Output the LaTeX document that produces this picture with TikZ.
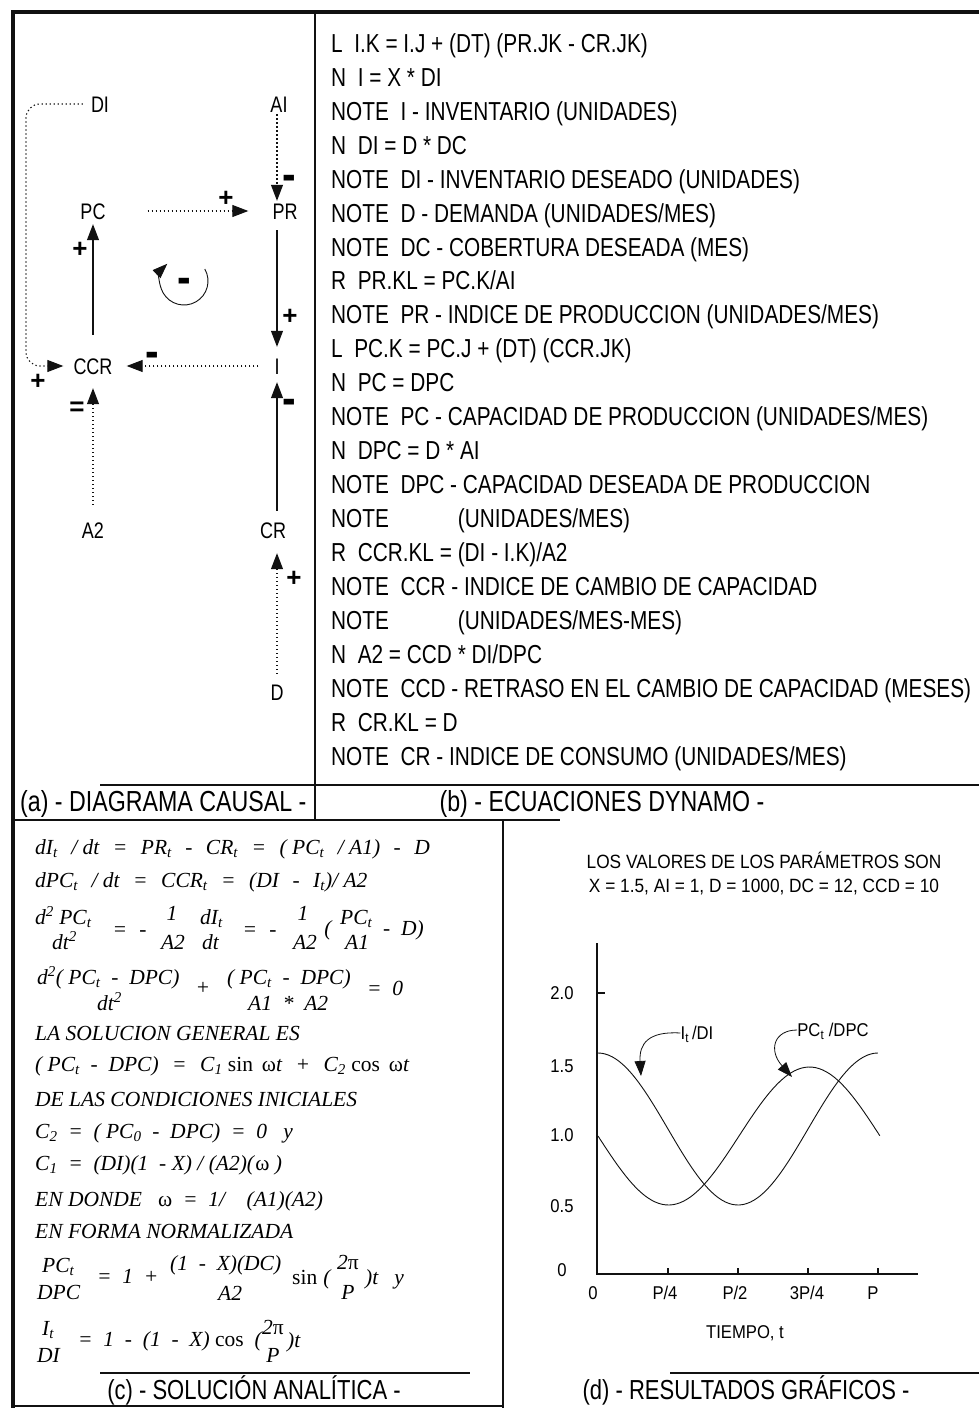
\documentclass[tikz,border=0pt]{standalone}
\usepackage{fontspec}
\usepackage{graphicx}
\usepackage{tikz}
\usetikzlibrary{arrows.meta,positioning}
\setmainfont{Liberation Serif}
\newfontfamily\condsans[FakeStretch=0.8]{Liberation Sans}
\newfontfamily\grafsans[FakeStretch=0.9]{Liberation Sans}
\newfontfamily\signsans{Liberation Sans}
\newfontfamily\eqserif{Liberation Serif}
\newcommand{\lo}[1]{\textsubscript{#1}}
\newcommand{\g}{\hspace{13.5pt}}
\newcommand{\mn}{\smash{\scalebox{0.8}[2.2]{–}}}
\definecolor{ink}{HTML}{111111}
\tikzset{
  dyn/.style={anchor=west,inner sep=0pt,text height=18.6pt,text depth=0pt,font=\condsans\fontsize{26}{26}\selectfont},
  capt/.style={inner sep=0pt,text height=20.8pt,text depth=0pt,font=\condsans\fontsize{29}{29}\selectfont},
  capt2/.style={capt,text height=19.7pt,font=\condsans\fontsize{27.5}{27.5}\selectfont},
  var/.style={inner sep=0pt,text height=16pt,text depth=0pt,font=\condsans\fontsize{22.5}{22.5}\selectfont},
  sgn/.style={inner sep=0pt,font=\signsans\bfseries\fontsize{26}{26}\selectfont},
  sgm/.style={sgn,text height=0pt,text depth=0pt,yshift=-15.5pt},
  eq/.style={anchor=west,inner sep=0pt,text height=14.2pt,text depth=0pt,font=\eqserif\itshape\fontsize{21.5}{21.5}\selectfont},
  eqc/.style={eq,anchor=center},
  gtx/.style={inner sep=0pt,text height=13pt,text depth=0pt,font=\grafsans\fontsize{18.5}{18.5}\selectfont},
  gtl/.style={gtx,text height=13.7pt,font=\grafsans\fontsize{19.2}{19.2}\selectfont},
  ar/.style={-{Triangle[length=16pt,width=12pt]},line width=1.1pt,ink},
  dar/.style={ar,dash pattern=on 1.3pt off 2.7pt},
  car/.style={-{Triangle[length=15pt,width=11pt]},line width=0.8pt,ink},
  rule/.style={line width=1.1pt,ink},
  crv/.style={line width=0.9pt,ink}
}

\begin{document}
\begin{tikzpicture}[x=1pt,y=-1pt]
\useasboundingbox (0,0) rectangle (979,1408);
\fill[white] (0,0) rectangle (979,1408);

% frame and panel rules
\draw[line width=4.5pt,ink] (13,1408) -- (13,12) -- (979,12);
\draw[rule] (315,12) -- (315,820);
\draw[rule] (100,785) -- (979,785);
\draw[rule] (13,820) -- (560,820);
\draw[rule] (503,820) -- (503,1408);
\draw[rule] (100,1373) -- (470,1373);
\draw[rule] (670,1373) -- (979,1373);
\draw[rule] (13,1406) -- (503,1406);

% (a) causal diagram
\node[var] (DI) at (100,104) {DI};
\node[var] (AI) at (279,104) {AI};
\node[var] (PC) at (93,211) {PC};
\node[var] (PR) at (285,211) {PR};
\node[var] (CCR) at (93,366) {CCR};
\node[var] (I) at (277,366) {I};
\node[var] (A2) at (93,530) {A2};
\node[var] (CR) at (273,530) {CR};
\node[var] (D) at (277,692) {D};
\coordinate (ccrl) at (26,366);

\draw[dar,shorten <=2pt,shorten >=2pt] ([xshift=-2pt]AI.south) -- ([xshift=-8pt]PR.north);
\draw[dar,shorten <=42pt,shorten >=24pt] (PC.east) -- (PR.west);
\draw[ar,shorten <=23pt,shorten >=5pt] (CCR.north) -- (PC.south);
\draw[ar,shorten <=11pt,shorten >=11pt] (PR.south -| I.north) -- (I.north);
\draw[dar,shorten <=16pt,shorten >=14pt] (I.west) -- (CCR.east);
\draw[dar,rounded corners=14pt,shorten <=8pt,shorten >=10pt] (DI.west) -| (ccrl) -- (CCR.west);
\draw[dar,shorten <=17pt,shorten >=14pt] (A2.north) -- (CCR.south);
\draw[ar,shorten <=11pt,shorten >=8pt] (CR.north -| I.south) -- (I.south);
\draw[dar,shorten <=10pt,shorten >=15pt] (D.north) -- (CR.south -| D.north);

\node[sgm] (s1) at (289,178) {\mn};
\node[sgn] (s2) at (226,199) {+};
\node[sgn] (s3) at (80,250) {+};
\node[sgn] (s4) at (290,317) {+};
\node[sgm] (s5) at (152,355) {\mn};
\node[sgn] (s6) at (38,382) {+};
\node[sgn] (s7) at (77,409) {=};
\node[sgm] (s8) at (289,402) {\mn};
\node[sgn] (s9) at (294,579) {+};
\node[sgm] (lpm) at (184,281) {\mn};
\coordinate (lpc) at (184,281);
\draw[car,line width=0.9pt] (lpc) ++(30:24pt) arc[start angle=30,end angle=-226,radius=24pt];

\node[capt,anchor=west] (capa) at (20,801) {(a) - DIAGRAMA CAUSAL -};

% (b) dynamo equations
\foreach \ln [count=\k from 0] in {
  {L~~I.K = I.J + (DT) (PR.JK - CR.JK)},
  {N~~I = X * DI},
  {NOTE~~I - INVENTARIO (UNIDADES)},
  {N~~DI = D * DC},
  {NOTE~~DI - INVENTARIO DESEADO (UNIDADES)},
  {NOTE~~D - DEMANDA (UNIDADES/MES)},
  {NOTE~~DC - COBERTURA DESEADA (MES)},
  {R~~PR.KL = PC.K/AI},
  {NOTE~~PR - INDICE DE PRODUCCION (UNIDADES/MES)},
  {L~~PC.K = PC.J + (DT) (CCR.JK)},
  {N~~PC = DPC},
  {NOTE~~PC - CAPACIDAD DE PRODUCCION (UNIDADES/MES)},
  {N~~DPC = D * AI},
  {NOTE~~DPC - CAPACIDAD DESEADA DE PRODUCCION},
  {NOTE\hspace{69pt}(UNIDADES/MES)},
  {R~~CCR.KL = (DI - I.K)/A2},
  {NOTE~~CCR - INDICE DE CAMBIO DE CAPACIDAD},
  {NOTE\hspace{69pt}(UNIDADES/MES-MES)},
  {N~~A2 = CCD * DI/DPC},
  {NOTE~~CCD - RETRASO EN EL CAMBIO DE CAPACIDAD (MESES)},
  {R~~CR.KL = D},
  {NOTE~~CR - INDICE DE CONSUMO (UNIDADES/MES)}}
  \node[dyn] (dy\k) at (331,{43+33.95*\k}) {\ln};

\node[capt] (capb) at (602,801) {(b) - ECUACIONES DYNAMO -};

% (c) analytic solution
\node[eq] (c1) at (35,847) {dI\lo{t}\g/ dt\g=\g PR\lo{t}\g-\g CR\lo{t}\g=\g( PC\lo{t}\g/ A1)\g-\g D};
\node[eq] (c2) at (35,880) {dPC\lo{t}\g/ dt\g=\g CCR\lo{t}\g=\g(DI\g-\g I\lo{t})/ A2};
\node[eq] (c3a) at (35,917) {d\textsuperscript{2} PC\lo{t}};
\node[eq] (c3b) at (52,942) {dt\textsuperscript{2}};
\node[eqc] (c3c) at (120,929) {=};
\node[eqc] (c3d) at (143,929) {-};
\node[eqc] (c3e) at (172,913) {1};
\node[eqc] (c3f) at (173,942) {A2};
\node[eq] (c3g) at (200,917) {dI\lo{t}};
\node[eq] (c3h) at (202,942) {dt};
\node[eqc] (c3i) at (250,929) {=};
\node[eqc] (c3j) at (273,929) {-};
\node[eqc] (c3k) at (303,913) {1};
\node[eqc] (c3l) at (305,942) {A2};
\node[eqc] (c3m) at (328,928) {(};
\node[eq] (c3n) at (340,917) {PC\lo{t}};
\node[eq] (c3o) at (345,942) {A1};
\node[eq] (c3p) at (383,928) {- \ D)};
\node[eq] (c4a) at (37,977) {d\textsuperscript{2}( PC\lo{t} \ - \ DPC)};
\node[eq] (c4b) at (97,1003) {dt\textsuperscript{2}};
\node[eqc] (c4c) at (203,987) {+};
\node[eq] (c4d) at (227,977) {( PC\lo{t} \ - \ DPC)};
\node[eq] (c4e) at (248,1003) {A1 \ * \ A2};
\node[eq] (c4f) at (367,988) {= \ 0};
\node[eq] (c5) at (35,1033) {LA SOLUCION GENERAL ES};
\node[eq] (c6) at (35,1064) {( PC\lo{t} \ - \ DPC)\g=\g C\lo{1} \textup{sin \,ω}t\g+\g C\lo{2} \textup{cos \,ω}t};
\node[eq] (c7) at (35,1099) {DE LAS CONDICIONES INICIALES};
\node[eq] (c8) at (35,1131) {C\lo{2} \ = \ ( PC\lo{0} \ - \ DPC) \ = \ 0 \ \ y};
\node[eq] (c9) at (35,1163) {C\lo{1} \ = \ (DI)(1 \ - X) / (A2)(\textup{ω} )};
\node[eq] (c10) at (35,1199) {EN DONDE \ \ \textup{ω} \ = \ 1/ \ \ \ (A1)(A2)};
\node[eq] (c11) at (35,1231) {EN FORMA NORMALIZADA};
\node[eq] (c12a) at (42,1265) {PC\lo{t}};
\node[eq] (c12b) at (37,1292) {DPC};
\node[eq] (c12c) at (97,1276) {= \ 1 \ +};
\node[eq] (c12d) at (170,1263) {(1 \ - \ X)(DC)};
\node[eq] (c12e) at (218,1293) {A2};
\node[eq] (c12f) at (292,1277) {\textup{sin}};
\node[eqc] (c12g) at (327,1277) {(};
\node[eq] (c12h) at (337,1262) {2\textup{π}};
\node[eqc] (c12i) at (348,1292) {P};
\node[eq] (c12j) at (365,1277) {)t \ \ y};
\node[eq] (c13a) at (42,1328) {I\lo{t}};
\node[eq] (c13b) at (37,1355) {DI};
\node[eq] (c13c) at (78,1339) {= \ 1 \ - \ (1 \ - \ X) \textup{cos} \ (};
\node[eq] (c13d) at (262,1327) {2\textup{π}};
\node[eqc] (c13e) at (273,1355) {P};
\node[eq] (c13f) at (287,1340) {)t};

\node[capt2] (capc) at (254,1390) {(c) - SOLUCIÓN ANALÍTICA -};

% (d) graphic results
\node[gtl] (gt1) at (764,862) {LOS VALORES DE LOS PARÁMETROS SON};
\node[gtl] (gt2) at (764,886) {X = 1.5, AI = 1, D = 1000, DC = 12, CCD = 10};
\draw[rule] (597,943) -- (597,1274) -- (918,1274);
\draw[rule] (597,993) -- (605,993);
\foreach \q in {668,738,808,878} \draw[rule] (\q,1274) -- (\q,1268);
\foreach \yy/\v in {993/2.0,1066/1.5,1135/1.0,1206/0.5,1270/0}
  \node[gtx] (yl\yy) at (562,\yy) {\v};
\foreach \xx/\lb in {593/0,665/{P/4},735/{P/2},807/{3P/4},873/P}
  \node[gtx] (xl\xx) at (\xx,1293) {\lb};
\node[gtx] (tax) at (745,1332) {TIEMPO, t};
\draw[crv] plot[domain=0:1,samples=80,smooth] ({598+280*\x},{1129-76*cos(360*\x)});
\draw[crv] plot[domain=0:1,samples=80,smooth] ({598+282*\x},{1136+69*sin(360*\x)});
\node[gtx] (ilab) at (697,1033) {I\lo{t}\,/DI};
\node[gtx] (plab) at (833,1030) {PC\lo{t} /DPC};
\coordinate (ipt) at (641,1076);
\coordinate (ppt) at (792,1077);
\draw[car] (ilab.west) .. controls (648,1031) and (639,1044) .. (ipt);
\draw[car] (plab.west) .. controls (774,1030) and (768,1050) .. (ppt);

\node[capt2] (capd) at (746,1390) {(d) - RESULTADOS GRÁFICOS -};
\end{tikzpicture}
\end{document}
